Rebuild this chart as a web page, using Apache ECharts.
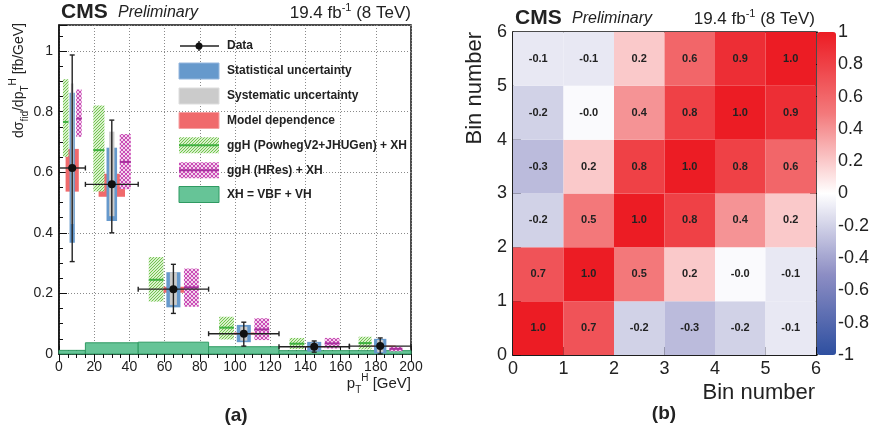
<!DOCTYPE html>
<html>
<head>
<meta charset="utf-8">
<script src="https://cdn.jsdelivr.net/npm/echarts@6/dist/echarts.min.js"></script>
<style>
html, body { margin: 0; padding: 0; background: #fff; }
#main { width: 874px; height: 434px; }
</style>
</head>
<body>
<div id="main"></div>
<script>
// (a) fiducial cross section vs pT(H), bins in GeV
const binLo = [0, 15, 45, 85, 125, 165];
const binHi = [15, 45, 85, 125, 165, 200];
const xsec = [0.614, 0.56, 0.214, 0.067, 0.024, 0.026];
const totUp = [0.987, 0.772, 0.296, 0.105, 0.043, 0.053];
const totDn = [0.305, 0.40, 0.134, 0.026, 0.006, 0.0];
const statUp = [0.862, 0.681, 0.27, 0.096, 0.04, 0.05];
const statDn = [0.367, 0.439, 0.154, 0.039, 0.008, 0.002];
const systUp = [0.893, 0.734, 0.27, 0.09, 0.037, 0.046];
const systDn = [0.429, 0.455, 0.162, 0.044, 0.012, 0.006];
const modelUp = [0.677, 0.595, 0.222, 0.071, 0.026, 0.028];
const modelDn = [0.536, 0.519, 0.202, 0.064, 0.022, 0.024];
const powCen = [0.766, 0.673, 0.245, 0.087, 0.034, 0.036];
const powUp = [0.907, 0.82, 0.32, 0.123, 0.053, 0.057];
const powDn = [0.651, 0.536, 0.173, 0.048, 0.016, 0.015];
const hresCen = [0.777, 0.634, 0.22, 0.081, 0.035, 0.017];
const hresUp = [0.873, 0.726, 0.282, 0.118, 0.053, 0.024];
const hresDn = [0.717, 0.544, 0.156, 0.046, 0.018, 0.009];
const xhVal = [0.012, 0.037, 0.039, 0.024, 0.011, 0.011];

// (b) correlation matrix, row 0 = bottom bin
const corr = [
  [1.0, 0.7, -0.2, -0.3, -0.2, -0.1],
  [0.7, 1.0, 0.5, 0.2, -0.02, -0.1],
  [-0.2, 0.5, 1.0, 0.8, 0.4, 0.2],
  [-0.3, 0.2, 0.8, 1.0, 0.8, 0.6],
  [-0.2, -0.02, 0.4, 0.8, 1.0, 0.9],
  [-0.1, -0.1, 0.2, 0.6, 0.9, 1.0]
];

const FONT = '"Liberation Sans", Arial, Helvetica, sans-serif';
const INK = '#222';

// pixel hatch tiles (no antialiasing)
function hatch(bg, color, n, cross) {
  const c = document.createElement('canvas');
  c.width = n; c.height = n;
  const g = c.getContext('2d');
  g.fillStyle = bg;
  g.fillRect(0, 0, n, n);
  g.fillStyle = color;
  for (let x = 0; x < n; x++) {
    for (let y = 0; y < n; y++) {
      if ((x + y) % n === n - 1 || (cross && (x - y + n) % n === 0)) g.fillRect(x, y, 1, 1);
    }
  }
  return { image: c, repeat: 'repeat' };
}
const greenHatch = hatch('#d9f0cc', '#72c450', 3, false);
const pinkHatch = hatch('#f3d3ec', '#c94cb6', 4, true);

const C = {
  stat: '#6699cc', syst: '#cbcbcb', model: '#f06a6c', xh: '#66c497', xhLine: '#2f9a62',
  pow: '#3fb040', hres: '#a8309e'
};

const idx = binLo.map((_, i) => i);
const boxData = (dn, up) => idx.map(i => [binLo[i], binHi[i], dn[i], up[i]]);

// box spanning [c+f0*w, c+f1*w] horizontally
function boxSeries(data, f0, f1, fill, z) {
  return {
    type: 'custom', xAxisIndex: 0, yAxisIndex: 0, z: z, silent: true,
    data: data,
    renderItem: function (params, api) {
      const lo = api.value(0), hi = api.value(1), w = hi - lo, c = (lo + hi) / 2;
      const p0 = api.coord([c + f0 * w, api.value(3)]);
      const p1 = api.coord([c + f1 * w, api.value(2)]);
      return { type: 'rect', shape: { x: p0[0], y: p0[1], width: p1[0] - p0[0], height: p1[1] - p0[1] }, style: { fill: fill } };
    }
  };
}

function hatchSeries(dn, up, cen, f0, f1, pattern, lineColor, z) {
  return {
    type: 'custom', xAxisIndex: 0, yAxisIndex: 0, z: z, silent: true,
    data: idx.map(i => [binLo[i], binHi[i], dn[i], up[i], cen[i]]),
    renderItem: function (params, api) {
      const lo = api.value(0), hi = api.value(1), w = hi - lo, c = (lo + hi) / 2;
      const p0 = api.coord([c + f0 * w, api.value(3)]);
      const p1 = api.coord([c + f1 * w, api.value(2)]);
      const pc = api.coord([c, api.value(4)]);
      return {
        type: 'group', children: [
          { type: 'rect', shape: { x: p0[0], y: p0[1], width: p1[0] - p0[0], height: p1[1] - p0[1] }, style: { fill: pattern } },
          { type: 'line', shape: { x1: p0[0], y1: pc[1], x2: p1[0], y2: pc[1] }, style: { stroke: lineColor, lineWidth: 2 } }
        ]
      };
    }
  };
}

const series = [
  {
    type: 'custom', xAxisIndex: 0, yAxisIndex: 0, z: 2, silent: true,
    data: idx.map(i => [binLo[i], binHi[i], xhVal[i]]),
    renderItem: function (params, api) {
      const p0 = api.coord([api.value(0), api.value(2)]);
      const p1 = api.coord([api.value(1), 0]);
      return { type: 'rect', shape: { x: p0[0], y: p0[1], width: p1[0] - p0[0], height: p1[1] - p0[1] },
        style: { fill: C.xh, stroke: C.xhLine, lineWidth: 1 } };
    }
  },
  boxSeries(boxData(modelDn, modelUp), -0.25, 0.25, C.model, 3),
  hatchSeries(powDn, powUp, powCen, -0.35, -0.14, greenHatch, C.pow, 3),
  hatchSeries(hresDn, hresUp, hresCen, 0.15, 0.36, pinkHatch, C.hres, 3),
  boxSeries(boxData(statDn, statUp), -0.1, 0.1, C.stat, 4),
  boxSeries(boxData(systDn, systUp), -0.05, 0.05, C.syst, 5),
  {
    type: 'custom', xAxisIndex: 0, yAxisIndex: 0, z: 6, silent: true,
    data: idx.map(i => [binLo[i], binHi[i], totDn[i], totUp[i], xsec[i]]),
    renderItem: function (params, api) {
      const lo = api.value(0), hi = api.value(1), c = (lo + hi) / 2;
      const pm = api.coord([c, api.value(4)]);
      const pl = api.coord([lo, api.value(4)]);
      const ph = api.coord([hi, api.value(4)]);
      const pd = api.coord([c, api.value(2)]);
      const pu = api.coord([c, api.value(3)]);
      const st = { stroke: INK, lineWidth: 1.4 };
      const cap = 2.5;
      return {
        type: 'group', children: [
          { type: 'line', shape: { x1: pl[0], y1: pm[1], x2: ph[0], y2: pm[1] }, style: st },
          { type: 'line', shape: { x1: pm[0], y1: pd[1], x2: pm[0], y2: pu[1] }, style: st },
          { type: 'line', shape: { x1: pm[0] - cap, y1: pd[1], x2: pm[0] + cap, y2: pd[1] }, style: st },
          { type: 'line', shape: { x1: pm[0] - cap, y1: pu[1], x2: pm[0] + cap, y2: pu[1] }, style: st },
          { type: 'line', shape: { x1: pl[0], y1: pm[1] - cap, x2: pl[0], y2: pm[1] + cap }, style: st },
          { type: 'line', shape: { x1: ph[0], y1: pm[1] - cap, x2: ph[0], y2: pm[1] + cap }, style: st },
          { type: 'circle', shape: { cx: pm[0], cy: pm[1], r: 4 }, style: { fill: '#111' } }
        ]
      };
    }
  },
  {
    type: 'custom', xAxisIndex: 2, yAxisIndex: 2, z: 2, silent: true,
    data: corr.flatMap((row, r) => row.map((v, c) => [c, r, v])),
    renderItem: function (params, api) {
      const p0 = api.coord([api.value(0), api.value(1) + 1]);
      const p1 = api.coord([api.value(0) + 1, api.value(1)]);
      return {
        type: 'group', children: [
          { type: 'rect', shape: { x: p0[0], y: p0[1], width: p1[0] - p0[0], height: p1[1] - p0[1] }, style: { fill: api.visual('color') } },
          { type: 'text', style: { x: (p0[0] + p1[0]) / 2, y: (p0[1] + p1[1]) / 2, text: api.value(2).toFixed(1),
            textAlign: 'center', textVerticalAlign: 'middle', font: 'bold 11px ' + FONT, fill: INK } }
        ]
      };
    }
  }
];

const tickAx = (extra) => Object.assign({
  axisLine: { show: true, lineStyle: { color: '#111', width: 1.5 } },
  axisTick: { show: true, inside: true, length: 8, lineStyle: { color: '#111', width: 1 } },
  minorTick: { show: true, splitNumber: 4, length: 4, lineStyle: { color: '#111', width: 1 } },
  axisLabel: { color: INK, fontFamily: FONT, fontSize: 14 },
  splitLine: { show: true, lineStyle: { color: '#8a8a8a', type: [1, 2], width: 1 } }
}, extra);

const option = {
  animation: false,
  backgroundColor: '#fff',
  grid: [
    { left: 59, top: 25, width: 352, height: 329, show: true, borderColor: '#111', borderWidth: 1.5, backgroundColor: 'transparent', outerBoundsMode: 'none' },
    { left: 513, top: 32, width: 303, height: 323, show: true, borderColor: '#111', borderWidth: 1.5, backgroundColor: 'transparent', outerBoundsMode: 'none' },
    { left: 817, top: 32, width: 19, height: 323, outerBoundsMode: 'none' }
  ],
  xAxis: [
    tickAx({ type: 'value', gridIndex: 0, min: 0, max: 200, interval: 20,
      axisLabel: { color: INK, fontFamily: FONT, fontSize: 14, margin: 6 } }),
    { type: 'value', gridIndex: 0, min: 0, max: 200, interval: 20, z: 8,
      axisLine: { show: false }, axisLabel: { show: false }, splitLine: { show: false },
      axisTick: { show: true, inside: true, length: 8, lineStyle: { color: '#111' } },
      minorTick: { show: true, splitNumber: 4, length: 4, lineStyle: { color: '#111' } } },
    tickAx({ type: 'value', gridIndex: 1, min: 0, max: 6, interval: 1, splitLine: { show: false },
      minorTick: { show: true, splitNumber: 5, length: 4, lineStyle: { color: '#111' } },
      axisLabel: { color: INK, fontFamily: FONT, fontSize: 18, margin: 5 } }),
    { type: 'value', gridIndex: 2, min: 0, max: 1, show: false }
  ],
  yAxis: [
    tickAx({ type: 'value', gridIndex: 0, min: 0, max: 1.086, interval: 0.2,
      axisLabel: { color: INK, fontFamily: FONT, fontSize: 14, margin: 6, showMaxLabel: false } }),
    { type: 'value', gridIndex: 0, min: 0, max: 1.086, interval: 0.2, show: false },
    tickAx({ type: 'value', gridIndex: 1, min: 0, max: 6, interval: 1, splitLine: { show: false },
      minorTick: { show: true, splitNumber: 5, length: 4, lineStyle: { color: '#111' } },
      axisLabel: { color: INK, fontFamily: FONT, fontSize: 18, margin: 6 } }),
    { type: 'value', gridIndex: 2, min: -1, max: 1, interval: 0.2, position: 'right',
      axisLine: { show: true, lineStyle: { color: '#111', width: 1 } },
      axisTick: { show: true, inside: true, length: 7, lineStyle: { color: '#111' } },
      splitLine: { show: false },
      axisLabel: { color: INK, fontFamily: FONT, fontSize: 18, margin: 2,
        formatter: v => String(Math.round(v * 10) / 10) } }
  ],
  visualMap: {
    type: 'continuous', min: -1, max: 1, seriesIndex: 7, dimension: 2,
    calculable: false, hoverLink: false, padding: 0,
    left: 817, top: 32, itemWidth: 19, itemHeight: 323, text: null,
    inRange: { color: ['#2e4fa0', '#8d8ec4', '#ffffff', '#f3787a', '#ec1c24'] },
    textStyle: { color: 'transparent' }
  },
  series: series,
  graphic: []
};

// header texts, titles, legend
const G = option.graphic;
function txt(x, y, text, font, align, rotation) {
  G.push({ type: 'text', silent: true, z: 20, x: x, y: y, rotation: rotation || 0,
    style: { x: 0, y: 0, text: text, font: font, fill: INK, textAlign: align || 'left', textVerticalAlign: 'middle' } });
}
function richTxt(x, y, text, rich, align, rotation) {
  G.push({ type: 'text', silent: true, z: 20, x: x, y: y, rotation: rotation || 0,
    style: { x: 0, y: 0, text: text, rich: rich, fill: INK, textAlign: align, textVerticalAlign: 'middle' } });
}
const lumiRich = {
  n: { fontFamily: FONT, fontSize: 17, lineHeight: 22, verticalAlign: 'middle', color: INK },
  s: { fontFamily: FONT, fontSize: 11, lineHeight: 12, verticalAlign: 'top', color: INK }
};
[[59, 12, 411], [513, 18, 815]].forEach(([x0, y0, x1]) => {
  txt(x0 + 2, y0, 'CMS', 'bold 21px ' + FONT);
  txt(x0 + 59, y0 + 1, 'Preliminary', 'italic 16px ' + FONT);
  richTxt(x1, y0 + 1, '{n|19.4 fb}{s|-1}{n| (8 TeV)}', lumiRich, 'right');
});

const titleRich = {
  n: { fontFamily: FONT, fontSize: 14, lineHeight: 22, verticalAlign: 'middle', color: INK },
  b: { fontFamily: FONT, fontSize: 15, lineHeight: 22, verticalAlign: 'middle', color: INK },
  sub: { fontFamily: FONT, fontSize: 10, lineHeight: 9, verticalAlign: 'bottom', color: INK },
  sup: { fontFamily: FONT, fontSize: 10, lineHeight: 10, verticalAlign: 'top', color: INK }
};
richTxt(19, 23, '{n|dσ}{sub|fid}{n|/dp}{sub|T}{sup|H}{n| [fb/GeV]}', titleRich, 'right', Math.PI / 2);
richTxt(411, 384, '{b|p}{sub|T}{sup|H}{b| [GeV]}', titleRich, 'right');
txt(475, 32, 'Bin number', '22px ' + FONT, 'right', Math.PI / 2);
txt(815, 393, 'Bin number', '22px ' + FONT, 'right');
txt(236, 416, '(a)', 'bold 19px ' + FONT, 'center');
txt(664, 414, '(b)', 'bold 19px ' + FONT, 'center');

// legend of panel (a)
const LX = 179, LW = 40, LH = 16;
const rows = [46, 71, 96, 120.5, 145.3, 170.3, 194.5];
const labels = ['Data', 'Statistical uncertainty', 'Systematic uncertainty', 'Model dependence',
  'ggH (PowhegV2+JHUGen) + XH', 'ggH (HRes) + XH', 'XH = VBF + VH'];
labels.forEach((s, i) => txt(227, rows[i], s, 'bold 12px ' + FONT));
G.push({ type: 'line', silent: true, z: 20, shape: { x1: LX + 1, y1: rows[0], x2: LX + LW, y2: rows[0] }, style: { stroke: INK, lineWidth: 1.4 } });
G.push({ type: 'line', silent: true, z: 20, shape: { x1: LX + 20, y1: rows[0] - 5, x2: LX + 20, y2: rows[0] + 5 }, style: { stroke: INK, lineWidth: 1.4 } });
G.push({ type: 'circle', silent: true, z: 20, shape: { cx: LX + 20, cy: rows[0], r: 3.5 }, style: { fill: '#111' } });
const legBox = (i, fill, stroke) => G.push({ type: 'rect', silent: true, z: 20,
  shape: { x: LX, y: rows[i] - LH / 2, width: LW, height: LH }, style: { fill: fill, stroke: stroke, lineWidth: 1 } });
legBox(1, C.stat, '#94b6dd');
legBox(2, C.syst, '#dddddd');
legBox(3, C.model, '#f5a0a2');
legBox(4, greenHatch, null);
legBox(5, pinkHatch, null);
legBox(6, C.xh, C.xhLine);
[[4, C.pow], [5, C.hres]].forEach(([i, col]) => G.push({ type: 'line', silent: true, z: 21,
  shape: { x1: LX, y1: rows[i], x2: LX + LW, y2: rows[i] }, style: { stroke: col, lineWidth: 2 } }));

const chart = echarts.init(document.getElementById('main'), null, { renderer: 'canvas' });
chart.setOption(option);
</script>
</body>
</html>
